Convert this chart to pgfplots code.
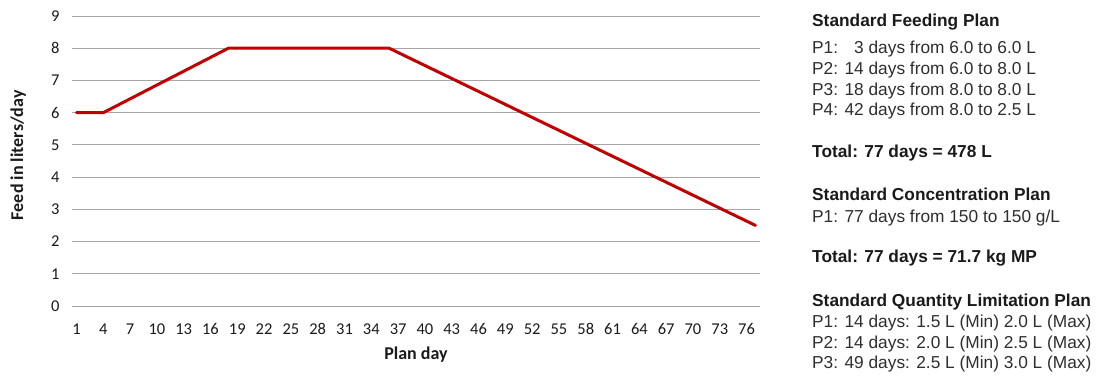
\documentclass[border=0pt]{standalone}
\usepackage{pgfplots}
\pgfplotsset{compat=1.18}
\usepackage{fontspec}
\setmainfont{Carlito}
\newfontfamily\arial{Liberation Sans}
\definecolor{linered}{HTML}{C00000}
\definecolor{gridgray}{HTML}{A6A6A6}
\definecolor{txt}{HTML}{1A1A1A}
\definecolor{txtreg}{HTML}{2E2E2E}
\newcommand\tickfont{\fontsize{16.5}{19}\selectfont}
\begin{document}
\begin{tikzpicture}[x=1pt,y=1pt]
\useasboundingbox (0,0) rectangle (1108,376);
\begin{axis}[
  at={(72pt,70pt)}, anchor=south west,
  scale only axis, width=688pt, height=290pt,
  xmin=0.5, xmax=77.5, ymin=0, ymax=9,
  xtick={1,4,...,76}, ytick={0,1,...,9},
  xticklabels={1,4,7,10,13,16,19,22,25,28,31,34,37,40,43,46,49,52,55,58,61,64,67,70,73,76},
  yticklabels={0,1,2,3,4,5,6,7,8,9},
  ymajorgrids, grid style={gridgray, line width=1pt},
  axis line style={draw=none},
  major tick length=0pt,
  xticklabel style={font=\tickfont, text=txt, yshift=-14pt},
  yticklabel style={font=\tickfont, text=txt, xshift=-9pt},
  xlabel={\textbf{Plan day}},
  ylabel={\textbf{Feed in liters/day}},
  label style={font=\fontsize{18}{20}\selectfont, text=txt},
  xlabel style={at={(axis description cs:0.5,-0.168)}, anchor=center},
  ylabel style={at={(axis description cs:-0.078,0.52)}, anchor=center},
  clip=false,
]
\addplot[linered, line width=3pt, line join=round, line cap=round] coordinates {
  (1,6) (4,6) (18,8) (36,8) (77,2.5)
};
\end{axis}
\begin{scope}[every node/.style={anchor=base west, inner sep=0pt, text=txtreg, font=\arial\fontsize{17.3}{21}\selectfont}]
\node[text=txt] at (812,349) {\textbf{Standard Feeding Plan}};
\node at (812,323) {P1: \phantom{1}3 days from 6.0 to 6.0 L};
\node at (812,302) {P2: 14 days from 6.0 to 8.0 L};
\node at (812,281) {P3: 18 days from 8.0 to 8.0 L};
\node at (812,261) {P4: 42 days from 8.0 to 2.5 L};
\node[text=txt] at (812,219) {\textbf{Total: 77 days = 478 L}};
\node[text=txt] at (812,176) {\textbf{Standard Concentration Plan}};
\node at (812,154) {P1: 77 days from 150 to 150 g/L};
\node[text=txt] at (812,114) {\textbf{Total: 77 days = 71.7 kg MP}};
\node[text=txt] at (812,70) {\textbf{Standard Quantity Limitation Plan}};
\node at (812,49) {P1: 14 days: 1.5 L (Min) 2.0 L (Max)};
\node at (812,28) {P2: 14 days: 2.0 L (Min) 2.5 L (Max)};
\node at (812,8) {P3: 49 days: 2.5 L (Min) 3.0 L (Max)};
\end{scope}
\end{tikzpicture}
\end{document}
